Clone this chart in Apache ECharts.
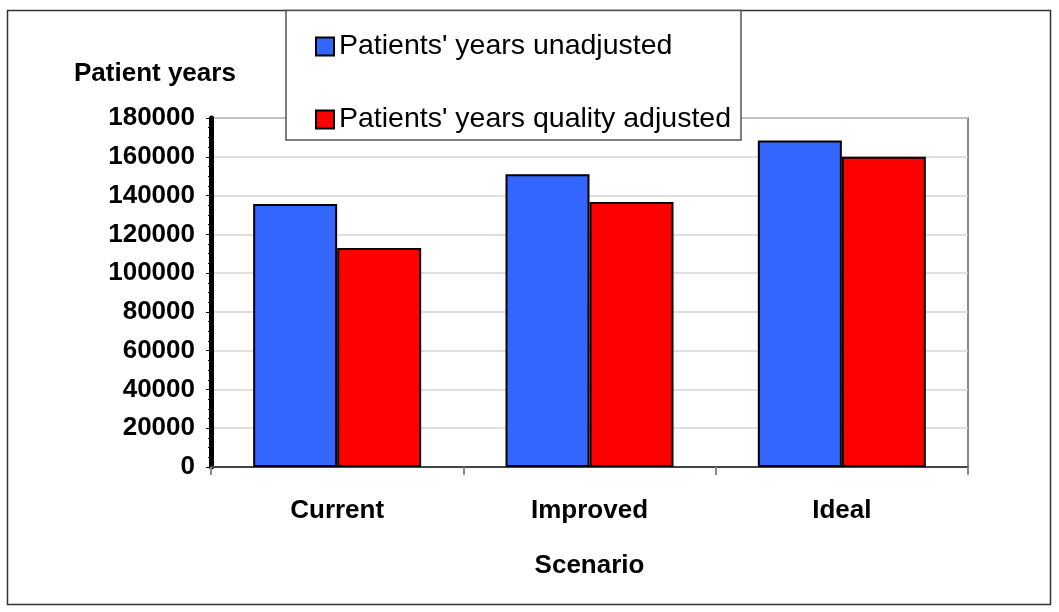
<!DOCTYPE html>
<html>
<head>
<meta charset="utf-8">
<script src="https://cdn.jsdelivr.net/npm/echarts@6/dist/echarts.min.js"></script>
<style>
  html, body { margin: 0; padding: 0; background: #fff; }
  #chart { width: 1059px; height: 612px; }
</style>
</head>
<body>
<div id="chart"></div>
<script>
// 시나리오별 환자 연수
const scenarios = ['Current', 'Improved', 'Ideal'];
const unadjusted = [135600, 151000, 168400];
const qualityAdjusted = [113000, 136700, 160000];
const seriesNames = ["Patients' years unadjusted", "Patients' years quality adjusted"];

const chart = echarts.init(document.getElementById('chart'));
const font = 'Liberation Sans, Arial, sans-serif';

const option = {
    animation: false,
    textStyle: { fontFamily: font },
    grid: {
        left: 211, top: 118, right: 91, bottom: 145,
        show: true,
        borderColor: '#888',
        borderWidth: 2
    },
    legend: {
        orient: 'vertical',
        left: 310,
        top: 27,
        itemGap: 44,
        itemWidth: 18,
        itemHeight: 18,
        icon: 'rect',
        z: 100,
        textStyle: { fontSize: 28.5, color: '#000', fontFamily: font },
        data: seriesNames
    },
    graphic: [
        // 바깥 테두리
        { type: 'rect', z: -1, shape: { x: 7.5, y: 10.5, width: 1043, height: 594 },
          style: { fill: null, stroke: '#333', lineWidth: 1.5 } },
        // 범례 상자
        { type: 'rect', z: 50, shape: { x: 286, y: 10.5, width: 455, height: 129.5 },
          style: { fill: '#fff', stroke: '#555', lineWidth: 1.5 } },
        { type: 'text', left: 74, top: 61,
          style: { text: 'Patient years', font: 'bold 26px ' + font, fill: '#000' } }
    ],
    xAxis: {
        type: 'category',
        data: scenarios,
        name: 'Scenario',
        nameLocation: 'middle',
        nameGap: 86,
        nameTextStyle: { fontSize: 26, fontWeight: 'bold', color: '#000' },
        axisLine: { lineStyle: { color: '#444', width: 2 } },
        axisTick: { show: true, length: 8, lineStyle: { color: '#888', width: 2 } },
        axisLabel: { fontSize: 26, fontWeight: 'bold', color: '#000', margin: 31 }
    },
    yAxis: {
        type: 'value',
        min: 0,
        max: 180000,
        interval: 20000,
        axisLine: { show: true, lineStyle: { color: '#000', width: 5 } },
        axisTick: { show: true, length: 5, lineStyle: { color: '#000', width: 1 } },
        minorTick: { show: true, splitNumber: 4, length: 3, lineStyle: { color: '#000' } },
        splitLine: { lineStyle: { color: '#d4d4d4', width: 1.5 } },
        axisLabel: {
            fontSize: 26, fontWeight: 'bold', color: '#000', margin: 16,
            formatter: v => String(v)
        }
    },
    series: [
        {
            name: seriesNames[0],
            type: 'bar',
            data: unadjusted,
            barWidth: 84,
            barGap: '0%',
            itemStyle: { color: '#3366ff', borderColor: '#000', borderWidth: 2 }
        },
        {
            name: seriesNames[1],
            type: 'bar',
            data: qualityAdjusted,
            barWidth: 84,
            itemStyle: { color: '#ff0000', borderColor: '#000', borderWidth: 2 }
        }
    ]
};

chart.setOption(option);
</script>
</body>
</html>
